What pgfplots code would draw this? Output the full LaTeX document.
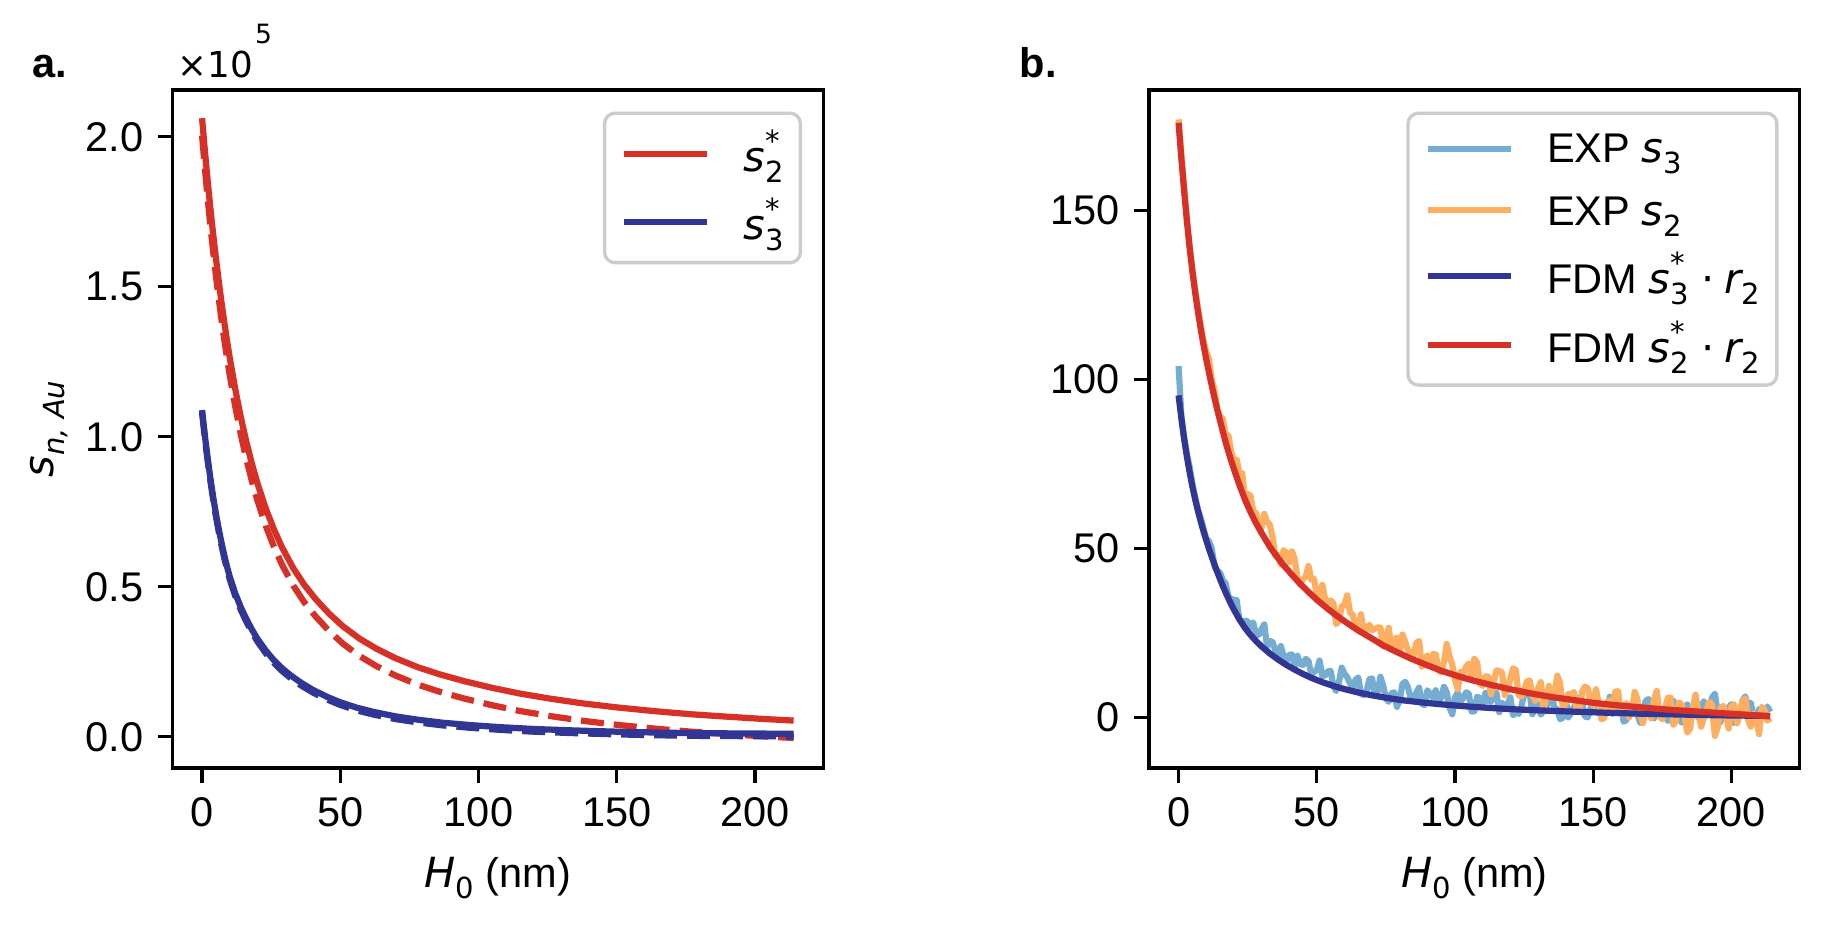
\documentclass[border=0pt]{standalone}
\usepackage{fontspec}
\setmainfont{Liberation Sans}
\newfontfamily\dv{DejaVu Sans}
\usepackage{pgfplots}
\pgfplotsset{compat=1.18}
\definecolor{cred}{RGB}{215,48,39}
\definecolor{cblue}{RGB}{49,54,149}
\definecolor{clblue}{RGB}{116,173,209}
\definecolor{corange}{RGB}{253,174,97}
\newcommand{\vs}{{\dv\itshape s}}
\newcommand{\vr}{{\dv\itshape r}}
\newcommand{\sub}[1]{\raisebox{-2.6pt}{\fontsize{7}{8}\dv #1}}
\newcommand{\subsup}[2]{\rlap{\raisebox{4.8pt}{\fontsize{7}{8}\dv #2}}\raisebox{-2.6pt}{\fontsize{7}{8}\dv #1}}
\newcommand{\ssub}[1]{\raisebox{-2.6pt}[0pt][0pt]{\fontsize{7}{8}\dv #1}}
\newcommand{\ssubsup}[2]{\rlap{\raisebox{4.8pt}[0pt][0pt]{\fontsize{7}{8}\dv #2}}\raisebox{-2.6pt}[0pt][0pt]{\fontsize{7}{8}\dv #1}}
\pgfplotsset{
  myaxis/.style={
    scale only axis, width=2.169in, height=2.26in, anchor=south west,
    xmin=-10.7, xmax=224.7,
    xtick={0,50,100,150,200},
    tick align=outside, major tick length=3.5pt,
    xtick pos=left, ytick pos=left,
    axis line style={line width=0.8pt},
    every tick/.style={black, line width=0.8pt},
    /pgf/number format/assume math mode=true,
    tick label style={font=\fontsize{10}{12}\selectfont},
    xlabel style={at={([yshift=-28.8pt]axis description cs:0.5,0)}, anchor=base, font=\fontsize{10}{12}\selectfont},
    ylabel style={at={([xshift=-28.7pt]axis description cs:0,0.5)}, rotate=0, anchor=base, font=\fontsize{10}{12}\selectfont},
    legend cell align=left,
    legend image code/.code={\draw[#1,line width=1.5pt] (0pt,0pt) -- (20pt,0pt);},
    legend style={at={(rel axis cs:1,1)}, anchor=north east, xshift=-5.1pt, yshift=-5.2pt,
      draw=black!20, line width=0.8pt, rounded corners=2.5pt, fill=white, fill opacity=0.8, text opacity=1,
      inner xsep=4pt, inner ysep=4pt, row sep=5pt, column sep=8pt,
      font=\fontsize{10}{12}\selectfont,
      nodes={inner sep=0pt}},
    every axis plot/.append style={line width=1.5pt, line join=round},
  }
}
\begin{document}
\begin{tikzpicture}
\path[use as bounding box] (0,0) rectangle (6.0967in,3.0867in);
% ---------------- panel a ----------------
\begin{axis}[myaxis, at={(0.575in,0.5267in)},
  ymin=-0.104, ymax=2.156,
  ytick={0,0.5,1,1.5,2},
  scaled y ticks=false,
  yticklabel style={/pgf/number format/.cd, fixed, fixed zerofill, precision=1},
  xlabel={{\dv\itshape H}\sub{0} (nm)},
  ylabel={\vs\raisebox{-2.6pt}{\fontsize{7}{8}\dv\itshape n, Au}},
]
\addplot[cred] coordinates {
(0,2.062) (1,1.955) (2,1.855) (3,1.762) (4,1.676) (5,1.596) (6,1.521) (7,1.450) (8,1.384) (9,1.322)
(10,1.264) (12,1.159) (14,1.066) (16,0.984) (18,0.911) (20,0.846) (23,0.762) (26,0.691) (29,0.630)
(33,0.562) (37,0.506) (41,0.460) (46,0.410) (51,0.368) (57,0.327) (63,0.294) (70,0.262) (78,0.232)
(86,0.208) (95,0.185) (105,0.163) (115,0.144) (126,0.127) (138,0.111) (150,0.098) (163,0.086)
(177,0.075) (190,0.067) (202,0.060) (214,0.054)};
\addlegendentry{\vs\subsup{2}{*}}
\addplot[cred, dash pattern=on 5.55pt off 2.4pt, forget plot] coordinates {
(0,2.004) (1,1.897) (2,1.797) (3,1.704) (4,1.618) (5,1.538) (6,1.463) (7,1.392) (8,1.326) (9,1.264)
(10,1.206) (12,1.101) (14,1.008) (16,0.926) (18,0.853) (20,0.788) (23,0.704) (26,0.633) (29,0.572)
(33,0.504) (37,0.448) (41,0.402) (46,0.352) (51,0.310) (57,0.269) (63,0.236) (70,0.204) (78,0.174)
(86,0.150) (95,0.127) (105,0.105) (115,0.086) (126,0.069) (138,0.053) (150,0.040) (163,0.028)
(177,0.017) (190,0.009) (202,0.002) (214,-0.004)};
\addplot[cblue] coordinates {
(0,1.089) (1,1.005) (2,0.930) (3,0.862) (4,0.800) (5,0.744) (6,0.694) (7,0.648) (8,0.606) (9,0.568)
(10,0.534) (12,0.478) (14,0.432) (16,0.393) (18,0.358) (20,0.327) (23,0.288) (26,0.255) (29,0.228)
(32,0.205) (36,0.179) (40,0.157) (45,0.134) (50,0.115) (56,0.097) (62,0.083) (70,0.068) (78,0.057)
(87,0.047) (97,0.039) (108,0.032) (120,0.026) (135,0.021) (150,0.017) (165,0.014) (180,0.012)
(197,0.011) (214,0.010)};
\addlegendentry{\vs\subsup{3}{*}}
\addplot[cblue, dash pattern=on 5.55pt off 2.4pt, forget plot] coordinates {
(0,1.080) (1,0.996) (2,0.921) (3,0.853) (4,0.791) (5,0.735) (6,0.685) (7,0.639) (8,0.597) (9,0.559)
(10,0.525) (12,0.469) (14,0.423) (16,0.384) (18,0.349) (20,0.318) (23,0.279) (26,0.246) (29,0.219)
(32,0.196) (36,0.170) (40,0.148) (45,0.125) (50,0.106) (56,0.088) (62,0.074) (70,0.059) (78,0.048)
(87,0.038) (97,0.030) (108,0.023) (120,0.017) (135,0.012) (150,0.008) (165,0.005) (180,0.003)
(197,0.002) (214,0.001)};
\end{axis}
% ---------------- panel b ----------------
\begin{axis}[myaxis, at={(3.830in,0.5267in)},
  ymin=-15.0, ymax=185.7,
  ytick={0,50,100,150},
  xlabel={{\dv\itshape H}\sub{0} (nm)},
]
\addplot[clblue] coordinates {
(0,104.0) (1,89.3) (2,82.8) (3,77.9) (4,74.1) (5,69.0) (6,65.1) (7,61.5) (8,59.0) (9,56.0)
(10,52.9) (11,52.1) (12,50.0) (13,44.7) (14,43.3) (15,42.8) (16,40.6) (17,39.7) (18,35.9) (19,35.0)
(20,34.8) (21,34.7) (22,28.9) (23,28.2) (24,28.6) (25,28.4) (26,26.7) (27,28.1) (28,24.4) (29,24.4)
(30,26.0) (31,27.5) (32,20.9) (33,22.6) (34,22.3) (35,19.7) (36,17.4) (37,21.1) (38,18.0) (39,16.6)
(40,18.5) (41,18.6) (42,14.9) (43,18.2) (44,15.8) (45,15.5) (46,17.3) (47,16.6) (48,12.7) (49,13.5)
(50,14.0) (51,16.8) (52,12.2) (53,12.4) (54,13.6) (55,13.7) (56,9.3) (57,7.8) (58,10.3) (59,14.7)
(60,12.9) (61,11.9) (62,10.1) (63,8.5) (64,11.1) (65,11.8) (66,6.9) (67,6.6) (68,7.6) (69,11.3)
(70,11.5) (71,6.7) (72,7.5) (73,12.0) (74,9.4) (75,5.6) (76,4.6) (77,7.1) (78,7.4) (79,3.1)
(80,5.1) (81,9.9) (82,10.5) (83,8.8) (84,5.7) (85,4.8) (86,7.3) (87,8.8) (88,4.0) (89,3.6)
(90,8.0) (91,6.9) (92,5.8) (93,8.0) (94,4.6) (95,5.8) (96,9.0) (97,7.4) (98,2.9) (99,0.9)
(100,5.9) (101,7.4) (102,4.7) (103,5.7) (104,7.4) (105,7.0) (106,1.7) (107,1.8) (108,6.1) (109,5.7)
(110,3.2) (111,7.2) (112,4.8) (113,4.6) (114,7.2) (115,7.2) (116,1.5) (117,4.3) (118,3.5) (119,3.7)
(120,5.9) (121,0.6) (122,1.5) (123,1.0) (124,3.2) (125,7.0) (126,6.6) (127,7.3) (128,0.9) (129,3.2)
(130,4.0) (131,0.8) (132,1.8) (133,2.9) (134,5.3) (135,7.0) (136,2.4) (137,2.4) (138,-0.5) (139,-0.2)
(140,5.8) (141,0.0) (142,1.2) (143,3.1) (144,2.9) (145,5.9) (146,3.9) (147,0.2) (148,0.0) (149,2.6)
(150,4.5) (151,6.2) (152,1.6) (153,3.2) (154,0.5) (155,1.9) (156,6.1) (157,1.0) (158,2.2) (159,4.5)
(160,3.2) (161,-1.3) (162,-0.8) (163,2.2) (164,3.8) (165,4.5) (166,0.9) (167,-1.6) (168,1.6) (169,4.9)
(170,5.4) (171,2.6) (172,-0.3) (173,3.6) (174,2.5) (175,0.4) (176,0.4) (177,-1.0) (178,4.6) (179,4.9)
(180,1.0) (181,2.6) (182,-1.5) (183,0.5) (184,3.8) (185,1.2) (186,2.0) (187,4.1) (188,-0.2) (189,2.6)
(190,4.7) (191,0.5) (192,1.2) (193,5.9) (194,7.0) (195,1.4) (196,-1.4) (197,3.0) (198,0.4) (199,2.9)
(200,3.9) (201,-1.7) (202,-1.0) (203,1.0) (204,5.0) (205,6.2) (206,3.1) (207,4.3) (208,-0.1) (209,-1.0)
(210,2.4) (211,0.5) (212,0.6) (213,3.2) (214,1.6)};
\addlegendentry{\rule[-1.1pt]{0pt}{8.9pt}EXP \vs\ssub{3}}
\addplot[corange] coordinates {
(0,177.0) (1,166.3) (2,156.8) (3,147.5) (4,139.3) (5,132.6) (6,126.7) (7,121.2) (8,116.1) (9,111.4)
(10,108.3) (11,106.1) (12,99.9) (13,96.9) (14,91.3) (15,89.1) (16,88.4) (17,83.7) (18,83.5) (19,78.7)
(20,75.9) (21,76.3) (22,72.4) (23,72.3) (24,65.1) (25,66.1) (26,65.6) (27,61.0) (28,60.5) (29,57.6)
(30,56.1) (31,60.2) (32,57.9) (33,57.0) (34,53.3) (35,47.9) (36,48.0) (37,45.3) (38,49.5) (39,48.7)
(40,45.8) (41,49.1) (42,46.8) (43,41.1) (44,39.4) (45,40.9) (46,41.6) (47,44.8) (48,40.7) (49,41.0)
(50,36.4) (51,35.0) (52,39.2) (53,35.0) (54,33.9) (55,34.6) (56,33.7) (57,27.6) (58,28.6) (59,32.9)
(60,33.1) (61,36.1) (62,31.0) (63,30.3) (64,27.1) (65,26.4) (66,30.5) (67,25.0) (68,25.8) (69,27.4)
(70,25.8) (71,26.2) (72,26.6) (73,26.6) (74,21.0) (75,22.6) (76,26.5) (77,20.7) (78,22.9) (79,23.6)
(80,19.4) (81,24.5) (82,22.3) (83,19.8) (84,19.1) (85,18.3) (86,22.0) (87,22.6) (88,15.0) (89,17.1)
(90,18.3) (91,15.4) (92,18.7) (93,18.6) (94,14.0) (95,13.3) (96,16.2) (97,21.7) (98,18.1) (99,15.6)
(100,11.2) (101,8.3) (102,13.5) (103,12.9) (104,15.0) (105,15.9) (106,11.3) (107,17.3) (108,16.1) (109,10.0)
(110,9.3) (111,12.1) (112,12.1) (113,6.8) (114,10.5) (115,13.9) (116,13.7) (117,13.3) (118,6.6) (119,8.1)
(120,11.4) (121,14.5) (122,14.0) (123,6.5) (124,6.2) (125,8.0) (126,10.6) (127,10.9) (128,6.7) (129,4.9)
(130,8.4) (131,10.4) (132,2.4) (133,5.9) (134,9.3) (135,5.9) (136,6.4) (137,12.3) (138,10.2) (139,2.7)
(140,4.1) (141,6.9) (142,6.6) (143,7.5) (144,2.4) (145,1.5) (146,7.6) (147,9.1) (148,8.6) (149,4.6)
(150,3.5) (151,8.3) (152,4.1) (153,-0.6) (154,-0.2) (155,4.5) (156,5.1) (157,1.4) (158,7.6) (159,7.7)
(160,0.8) (161,3.0) (162,4.2) (163,0.0) (164,1.8) (165,7.5) (166,5.2) (167,0.8) (168,-1.7) (169,2.8)
(170,2.2) (171,-0.3) (172,5.3) (173,7.8) (174,0.2) (175,-0.6) (176,2.7) (177,5.8) (178,5.8) (179,-2.2)
(180,-1.1) (181,4.4) (182,3.8) (183,0.7) (184,-4.5) (185,-3.4) (186,2.7) (187,6.7) (188,1.7) (189,-2.8)
(190,-0.3) (191,2.2) (192,4.6) (193,3.6) (194,-5.5) (195,-3.0) (196,2.6) (197,3.4) (198,0.2) (199,-3.3)
(200,3.3) (201,3.8) (202,-1.8) (203,1.1) (204,4.9) (205,5.6) (206,-0.7) (207,-2.8) (208,1.1) (209,-0.5)
(210,-5.0) (211,3.1) (212,2.2) (213,-1.0) (214,-0.2)};
\addlegendentry{\rule[-1.1pt]{0pt}{9.8pt}EXP \vs\ssub{2}}
\addplot[cblue] coordinates {
(0,95.3) (1,88.5) (2,82.5) (3,77.2) (4,72.5) (5,68.3) (6,64.5) (7,61.1) (8,58.0) (9,55.1) (10,52.4)
(11,49.9) (12,47.5) (13,45.2) (14,43.0) (15,40.9) (16,38.9) (17,37.0) (18,35.2) (19,33.5) (20,31.9)
(22,29.0) (24,26.5) (26,24.4) (28,22.6) (30,21.0) (33,18.9) (36,17.1) (39,15.5) (42,14.1) (45,12.85)
(48,11.7) (52,10.4) (56,9.3) (60,8.35) (65,7.35) (70,6.5) (75,5.8) (81,5.05) (88,4.4) (95,3.85)
(103,3.3) (112,2.8) (122,2.35) (132,2.0) (142,1.7) (155,1.35) (168,1.05) (180,0.85) (195,0.6) (214,0.4)};
\addlegendentry{\rule[-2.8pt]{0pt}{12.8pt}FDM \vs\ssubsup{3}{*}\kern3pt{\dv\textperiodcentered}\kern2.5pt\vr\ssub{2}}
\addplot[cred] coordinates {
(0,176.0) (1,165.5) (2,156.0) (3,147.0) (4,139.0) (5,132.0) (6,125.7) (7,120.1) (8,115.0) (9,110.3)
(10,106.0) (11,102.0) (12,98.2) (13,94.5) (14,91.0) (15,87.8) (16,84.6) (17,81.5) (18,78.7) (19,76.0)
(20,73.5) (22,68.8) (24,64.5) (26,60.8) (28,57.5) (30,54.6) (33,50.5) (36,47.1) (38,45.0) (41,42.2)
(44,39.5) (47,37.1) (50,34.8) (54,32.1) (57,30.2) (61,27.9) (65,25.7) (70,23.3) (74,21.3) (79,19.3)
(84,17.4) (90,15.4) (95,13.8) (101,12.2) (107,10.8) (114,9.4) (120,8.3) (128,7.0) (135,6.0) (143,5.1)
(150,4.3) (158,3.6) (165,3.1) (172,2.6) (180,2.1) (188,1.7) (197,1.2) (205,0.8) (214,0.3)};
\addlegendentry{\rule[-2.8pt]{0pt}{12.8pt}FDM \vs\ssubsup{2}{*}\kern3pt{\dv\textperiodcentered}\kern2.5pt\vr\ssub{2}}
\end{axis}
% panel letters and offset text
\node[anchor=base west, inner sep=0pt, font=\bfseries\fontsize{10}{12}\selectfont] at (0.1067in,2.8267in) {a.};
\node[anchor=base west, inner sep=0pt, font=\bfseries\fontsize{10}{12}\selectfont] at (3.3967in,2.8267in) {b.};
\node[anchor=base west, inner sep=0pt] at (0.59in,2.8267in) {\fontsize{8.6}{10}\dv ×10\kern0.5pt\raisebox{8.4pt}{\fontsize{6.4}{7}\dv 5}};
\end{tikzpicture}
\end{document}
